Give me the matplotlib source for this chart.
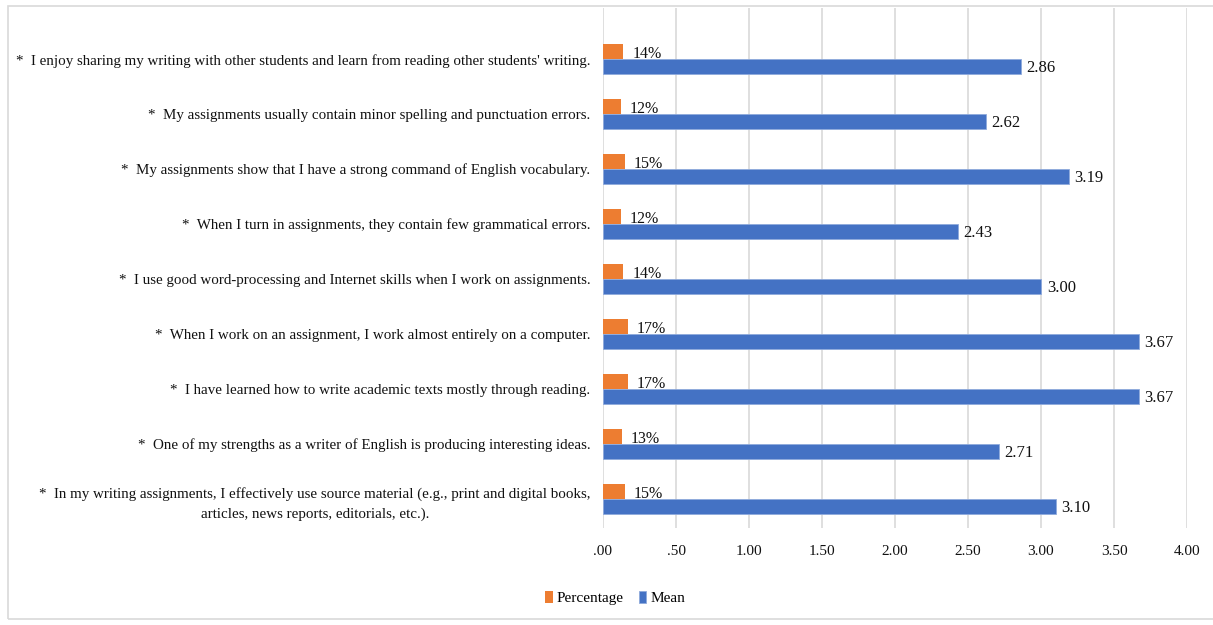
#!/usr/bin/env python3

import matplotlib as mpl
mpl.use('Agg')
import numpy as np
import matplotlib.pyplot as plt
from matplotlib.patches import Rectangle

# Data (top to bottom as in the chart)
statements = [
    "*  I enjoy sharing my writing with other students and learn from reading other students' writing.",
    "*  My assignments usually contain minor spelling and punctuation errors.",
    "*  My assignments show that I have a strong command of English vocabulary.",
    "*  When I turn in assignments, they contain few grammatical errors.",
    "*  I use good word-processing and Internet skills when I work on assignments.",
    "*  When I work on an assignment, I work almost entirely on a computer.",
    "*  I have learned how to write academic texts mostly through reading.",
    "*  One of my strengths as a writer of English is producing interesting ideas.",
    "*  In my writing assignments, I effectively use source material (e.g., print and digital books,\narticles, news reports, editorials, etc.).",
]
percentage = [0.14, 0.12, 0.15, 0.12, 0.14, 0.17, 0.17, 0.13, 0.15]
mean = [2.86, 2.62, 3.19, 2.43, 3.00, 3.67, 3.67, 2.71, 3.10]
x_ticks = [0.0, 0.5, 1.0, 1.5, 2.0, 2.5, 3.0, 3.5, 4.0]
x_ticklabels = ['.00', '.50', '1.00', '1.50', '2.00', '2.50', '3.00', '3.50', '4.00']

orange = '#ED7D31'
blue = '#4472C4'

plt.rcParams['font.family'] = ['Liberation Serif', 'DejaVu Serif']

fig = plt.figure(figsize=(12.13, 6.25), dpi=100)
# plot area: x 603..1187 px, y 8..528 px
ax = fig.add_axes([603 / 1213, 1 - 528 / 625, 584 / 1213, 520 / 625])

n = len(statements)
pos = np.arange(n)[::-1]  # first statement at top
h = 0.27

ax.barh(pos + h / 2, percentage, height=h, color=orange, label='Percentage', zorder=3)
ax.barh(pos - h / 2, mean, height=h, color=blue, edgecolor='#8FAADC', linewidth=0.6,
        label='Mean', zorder=3)

for y, p, m in zip(pos, percentage, mean):
    ax.text(p + 0.06, y + h / 2 - 0.05, '%d%%' % round(p * 100), va='center', ha='left',
            fontsize=11.5, color='#111111', zorder=4)
    ax.text(m + 0.04, y - h / 2 - 0.03, '%.2f' % m, va='center', ha='left',
            fontsize=12, color='#111111', zorder=4)

ax.set_xlim(0, 4)
ax.set_ylim(-0.53, n - 1 + 0.93)
ax.set_xticks(x_ticks)
ax.set_xticklabels(x_ticklabels, fontsize=11)
ax.set_yticks(pos)
ax.set_yticklabels(statements, fontsize=10.8, multialignment='center')
for t in ax.get_yticklabels():
    t.set_linespacing(1.65)
ax.tick_params(axis='both', length=0, colors='#111111')
ax.tick_params(axis='y', pad=9)
ax.tick_params(axis='x', pad=12)

ax.grid(axis='x', color='#D9D9D9', linewidth=1.2, zorder=0)
for s in ax.spines.values():
    s.set_visible(False)

ax.legend(loc='center', bbox_to_anchor=(615 / 1213, 1 - 598 / 625),
          bbox_transform=fig.transFigure, ncol=2, frameon=False, fontsize=11,
          handlelength=0.5, handleheight=0.9, handletextpad=0.25, columnspacing=1.0)

# light chart border
fig.patches.append(Rectangle((8 / 1213, 0.01), 1.2, 1 - 6 / 625 - 0.01,
                             transform=fig.transFigure, fill=False,
                             edgecolor='#D9D9D9', linewidth=1.2))

fig.savefig('out.png', dpi=100)
